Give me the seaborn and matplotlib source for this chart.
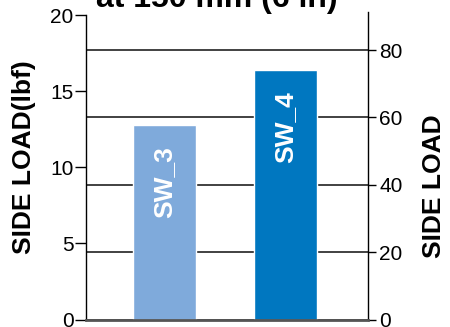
import matplotlib
matplotlib.use("Agg")
import matplotlib.pyplot as plt
import seaborn as sns
import numpy as np

# Data
categories = ["SW_3", "SW_4"]
side_load_lbf = [12.8, 16.4]
bar_colors = ["#7FAADB", "#0077C0"]
left_ticks = [0, 5, 10, 15, 20]
right_ticks = [0, 20, 40, 60, 80]
title_text = "at 150 mm (6 in)"
left_label = "SIDE LOAD(lbf)"
right_label = "SIDE LOAD"

sns.set_theme(style="white")
plt.rcParams["font.family"] = ["Liberation Sans", "DejaVu Sans"]

W, H = 450, 327
fig = plt.figure(figsize=(W / 100, H / 100), dpi=100)
ax_l, ax_r_px, ax_top, ax_bot = 86, 368, 12, 319.5
ax = fig.add_axes([ax_l / W, 1 - ax_bot / H, (ax_r_px - ax_l) / W, (ax_bot - ax_top) / H])
ax2 = ax.twinx()

# bars on main axis, drawn above the twin's gridlines
ax.set_zorder(ax2.get_zorder() + 1)
ax.patch.set_visible(False)

sns.barplot(x=categories, y=side_load_lbf, hue=categories, palette=bar_colors,
            width=0.52, legend=False, ax=ax, saturation=1)

ax.set_xlim(-0.65, 1.68)
ax.set_ylim(0, 20.23)
ax.set_yticks(left_ticks)
ax.set_yticklabels([str(t) for t in left_ticks])
ax.set_xticks([])
ax.set_xlabel("")

ax2.set_ylim(0, 91.3)
ax2.set_yticks(right_ticks)
ax2.set_yticklabels([str(t) for t in right_ticks])
ax2.yaxis.grid(True, color="#333333", lw=1.3)
ax2.xaxis.grid(False)
ax.grid(False)

for s in ["top", "right"]:
    ax.spines[s].set_visible(False)
ax.spines["left"].set_color("black")
ax.spines["left"].set_linewidth(1.0)
ax.spines["left"].set_bounds(0, 20)
ax.spines["bottom"].set_color("#555555")
ax.spines["bottom"].set_linewidth(2.0)
for s in ["top", "left", "bottom"]:
    ax2.spines[s].set_visible(False)
ax2.spines["right"].set_color("black")
ax2.spines["right"].set_linewidth(1.0)

ax.tick_params(axis="y", left=True, length=8, width=1, color="black",
               labelsize=15, labelcolor="black", pad=1, direction="out")
ax2.tick_params(axis="y", right=True, length=6, width=1, color="black",
                labelsize=15, labelcolor="black", pad=2, direction="out")

# bar labels
for i, (cat, v) in enumerate(zip(categories, side_load_lbf)):
    ax.annotate(cat, xy=(i, v), xytext=(0, -15), textcoords="offset points",
                rotation=90, ha="center", va="top", color="white",
                fontsize=19, fontweight="bold")

ax.set_ylabel(left_label, fontsize=19, fontweight="bold", va="center", color="black")
ax.yaxis.set_label_coords((23.5 - ax_l) / (ax_r_px - ax_l), (ax_bot - 157.5) / (ax_bot - ax_top))
ax2.set_ylabel(right_label, fontsize=19, fontweight="bold", va="center", color="black",
               rotation=90)
ax2.yaxis.set_label_coords((434 - ax_l) / (ax_r_px - ax_l), (ax_bot - 186) / (ax_bot - ax_top))

fig.text(217 / W, 1 - 7 / H, title_text, ha="center", va="baseline",
         fontsize=23, fontweight="bold", color="black")

fig.savefig("out.png", dpi=100, facecolor="white")
